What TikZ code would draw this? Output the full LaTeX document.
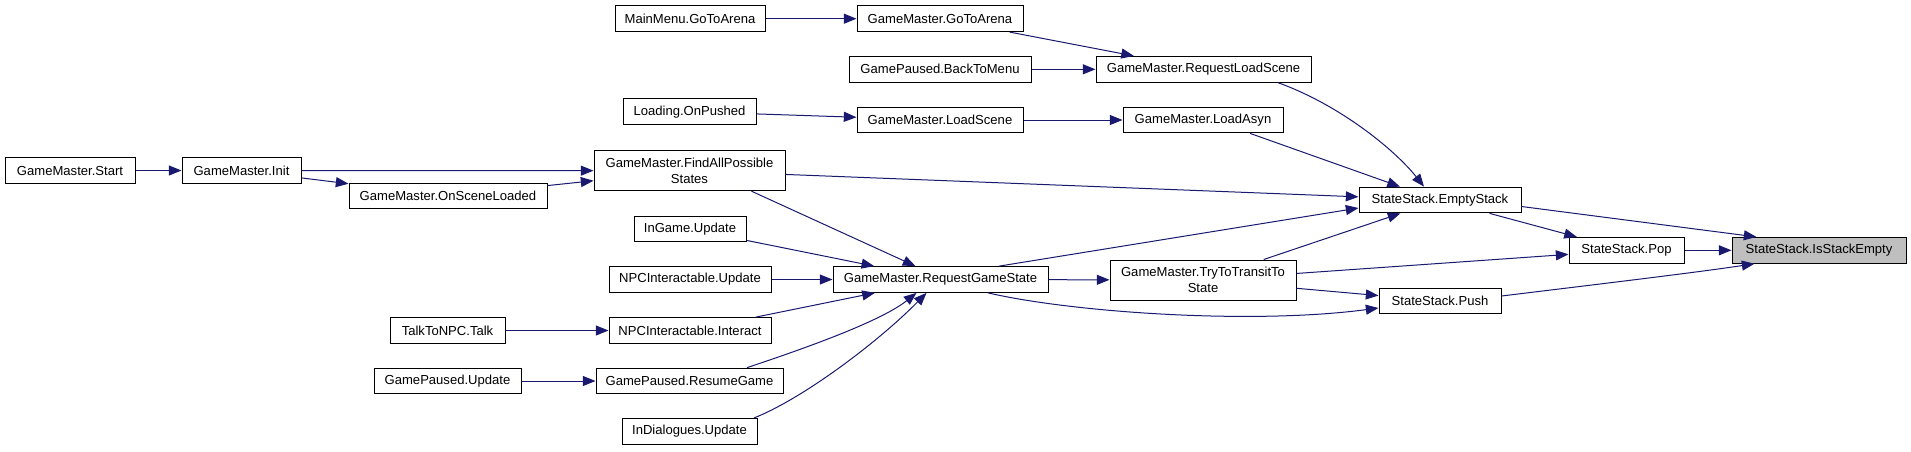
\documentclass[tikz,border=0pt]{standalone}
\usepackage{fontspec}
\setmainfont{Liberation Sans}
\usepackage{tikz}
\usepackage{xcolor}
\usetikzlibrary{arrows.meta,calc}

\definecolor{edgeblue}{HTML}{191970}
\definecolor{focusgray}{HTML}{BFBFBF}

\tikzset{
  fn/.style={draw=black, fill=white, line width=0.75pt, inner sep=0pt,
    minimum height=19.3pt, font=\fontsize{9.8}{12}\selectfont, align=center},
  bw/.style={minimum width=#1*0.75pt},
  twoline/.style={minimum height=30pt},
  call/.style={draw=edgeblue, line width=0.75pt, -{Triangle[length=9.5pt,width=7.5pt]}}
}

\begin{document}
\begin{tikzpicture}[x=0.75pt, y=-0.75pt]
            \useasboundingbox (0,0) rectangle (1911,451);
            \node[fn,bw=130] (start) at (70,170.5) {GameMaster.Start};
            \node[fn,bw=119] (init) at (241.5,170.5) {GameMaster.Init};
            \node[fn,bw=198] (onscene) at (448,196) {GameMaster.OnSceneLoaded};
            \node[fn,bw=191,twoline] (findall) at (689.5,170.7) {GameMaster.FindAllPossible\\States};
            \node[fn,bw=150] (mainmenu) at (690,18.7) {MainMenu.GoToArena};
            \node[fn,bw=166] (gotoarena) at (940,18.7) {GameMaster.GoToArena};
            \node[fn,bw=182] (backmenu) at (940,69.3) {GamePaused.BackToMenu};
            \node[fn,bw=215] (reqload) at (1203.5,69.3) {GameMaster.RequestLoadScene};
            \node[fn,bw=133] (onpushed) at (689.5,111.7) {Loading.OnPushed};
            \node[fn,bw=166] (loadscene) at (940,120) {GameMaster.LoadScene};
            \node[fn,bw=160] (loadasyn) at (1203,120) {GameMaster.LoadAsyn};
            \node[fn,bw=162] (emptystack) at (1440,200) {StateStack.EmptyStack};
            \node[fn,bw=112] (ingame) at (690,229) {InGame.Update};
            \node[fn,bw=162] (npcupdate) at (690,279.5) {NPCInteractable.Update};
            \node[fn,bw=215] (reqgame) at (940.5,279.5) {GameMaster.RequestGameState};
            \node[fn,bw=186,twoline] (trytransit) at (1203,280) {GameMaster.TryToTransitTo\\State};
            \node[fn,bw=115] (pop) at (1626.5,250.3) {StateStack.Pop};
            \node[fn,bw=174,fill=focusgray] (isempty) at (1819,250.3) {StateStack.IsStackEmpty};
            \node[fn,bw=122] (push) at (1440,301) {StateStack.Push};
            \node[fn,bw=115] (talk) at (447.5,330.5) {TalkToNPC.Talk};
            \node[fn,bw=162] (interact) at (690,330.5) {NPCInteractable.Interact};
            \node[fn,bw=147] (gpupdate) at (447.5,381) {GamePaused.Update};
            \node[fn,bw=187] (resume) at (689.5,381) {GamePaused.ResumeGame};
            \node[fn,bw=135] (indialog) at (689.5,431.3) {InDialogues.Update};
            \foreach \a/\b in {start/init, init/findall, init/onscene, onscene/findall,
                mainmenu/gotoarena, gotoarena/reqload, backmenu/reqload, onpushed/loadscene,
                loadscene/loadasyn, findall/emptystack, ingame/reqgame,
                npcupdate/reqgame, interact/reqgame, talk/interact, gpupdate/resume,
                reqgame/trytransit, trytransit/emptystack, trytransit/pop, trytransit/push,
                emptystack/pop, pop/isempty}
                \draw[call] (\a) -- (\b);
            \draw[call] ($(findall.south)+(62,0)$) -- ($(reqgame.north)+(-25,0)$);
            \draw[call] ($(reqload.south)+(74.5,0)$) .. controls (1340,105) and (1395,150) .. ($(emptystack.north)+(-16,0)$);
            \draw[call] ($(loadasyn.south)+(47,0)$) -- ($(emptystack.north)+(-40,0)$);
            \draw[call] ($(reqgame.north)+(58.5,0)$) -- ($(emptystack.west)+(0,8)$);
            \draw[call] ($(reqgame.south)+(47.5,0)$) .. controls (1070,312) and (1250,325) .. ($(push.west)+(0,7)$);
            \draw[call] ($(resume.north)+(57.5,0)$) .. controls (800,350) and (880,322) .. ($(reqgame.south)+(-24,0)$);
            \draw[call] ($(indialog.north)+(64.5,0)$) .. controls (800,400) and (875,345) .. ($(reqgame.south)+(-14,0)$);
            \draw[call] ($(emptystack.east)+(0,6.5)$) -- ($(isempty.north west)+(25,0)$);
            \draw[call] ($(push.east)+(0,-5)$) .. controls (1600,284) and (1700,272) .. ($(isempty.south west)+(23,0)$);
        \end{tikzpicture}
\end{document}
